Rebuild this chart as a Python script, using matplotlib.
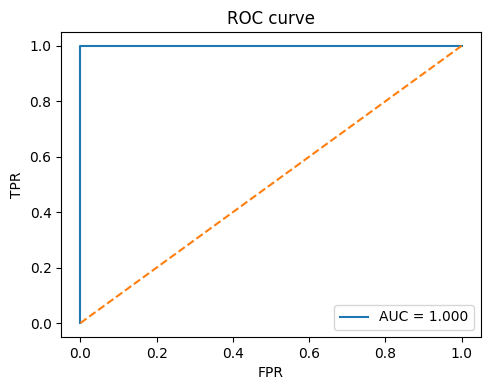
import matplotlib
matplotlib.use('Agg')
import matplotlib.pyplot as plt

# ROC points
fpr = [0.0, 0.0, 1.0]
tpr = [0.0, 1.0, 1.0]
auc_value = 1.000

# chance line
chance_x = [0, 1]
chance_y = [0, 1]

fig = plt.figure(figsize=(4.9, 3.9), dpi=100)
plt.plot(fpr, tpr, label=f'AUC = {auc_value:.3f}')
plt.plot(chance_x, chance_y, linestyle='--')
plt.xlabel('FPR')
plt.ylabel('TPR')
plt.title('ROC curve')
plt.legend(loc='lower right')
plt.subplots_adjust(left=0.125, right=0.981, top=0.918, bottom=0.136)
plt.savefig('out.png')
